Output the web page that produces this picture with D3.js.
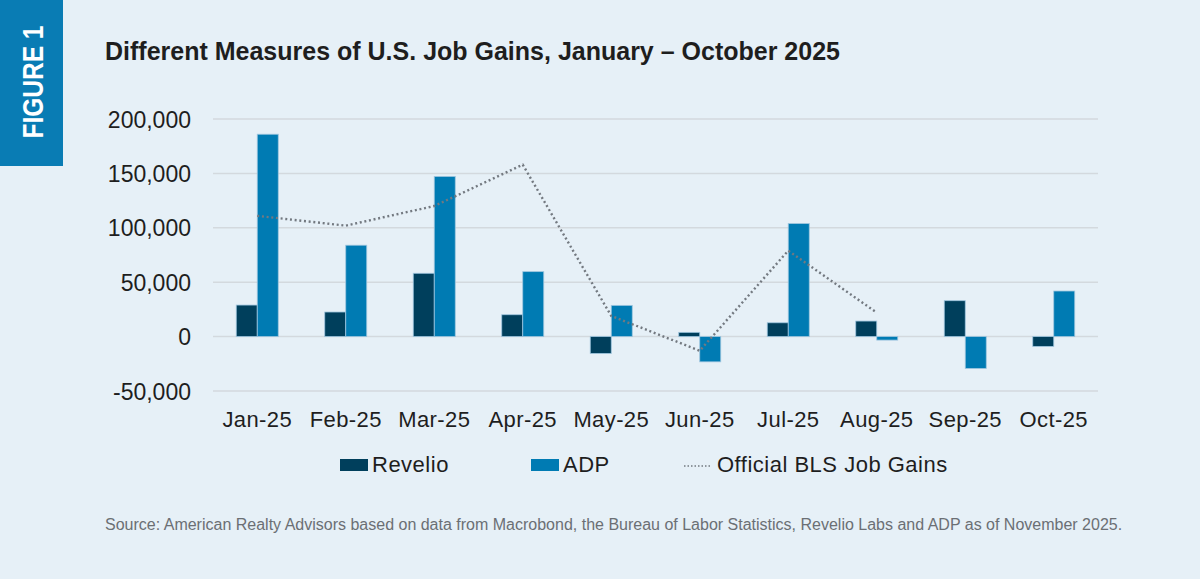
<!DOCTYPE html>
<html>
<head>
<meta charset="utf-8">
<script src="https://cdn.jsdelivr.net/npm/d3@7"></script>
<style>
  html, body { margin: 0; padding: 0; background: #e6f0f7; }
  svg { display: block; }
</style>
</head>
<body>
<svg id="chart" width="1200" height="579"></svg>
<script>
const months = ["Jan-25","Feb-25","Mar-25","Apr-25","May-25","Jun-25","Jul-25","Aug-25","Sep-25","Oct-25"];
const revelio = [29000, 22600, 58200, 20100, -15500, 3900, 12700, 14300, 33000, -9000];
const adp = [186000, 84000, 147200, 59700, 28700, -23200, 103900, -3200, -29300, 41900];
const blsMonths = ["Jan-25","Feb-25","Mar-25","Apr-25","May-25","Jun-25","Jul-25","Aug-25"];
const bls = [111000, 102000, 120000, 158000, 19000, -13000, 79000, 22000];
const yTicks = [-50000, 0, 50000, 100000, 150000, 200000];
const seriesNames = ["Revelio", "ADP"];
const seriesColors = ["#003f5c", "#007bb3"];
const titleText = "Different Measures of U.S. Job Gains, January \u2013 October 2025";
const sourceText = "Source: American Realty Advisors based on data from Macrobond, the Bureau of Labor Statistics, Revelio Labs and ADP as of November 2025.";

const svg = d3.select("#chart");
const font = "'Liberation Sans', Arial, sans-serif";

svg.append("rect").attr("width", 1200).attr("height", 579).attr("fill", "#e6f0f7");

// Figure tab
svg.append("rect").attr("x", 0).attr("y", 0).attr("width", 63).attr("height", 166).attr("fill", "#097cb4");
svg.append("text")
  .attr("transform", "translate(42.5,82) rotate(-90)")
  .attr("text-anchor", "middle")
  .attr("font-family", font).attr("font-weight", "bold").attr("font-size", 30)
  .attr("fill", "#ffffff")
  .attr("textLength", 113).attr("lengthAdjust", "spacingAndGlyphs")
  .text("FIGURE 1");

// Title
svg.append("text")
  .attr("x", 105).attr("y", 60)
  .attr("font-family", font).attr("font-weight", "bold").attr("font-size", 25)
  .attr("fill", "#1e1e1e").attr("letter-spacing", 0)
  .text(titleText);

const y = d3.scaleLinear().domain([-50000, 200000]).range([391, 119]);
const x0 = d3.scaleBand().domain(months).range([213, 1098]).padding(0);
const x1 = d3.scaleBand().domain(seriesNames).range([0, x0.bandwidth()]).paddingInner(0).paddingOuter(1.107);
const color = d3.scaleOrdinal().domain(seriesNames).range(seriesColors);

// gridlines
svg.append("g").selectAll("line").data(yTicks).join("line")
  .attr("x1", 213).attr("x2", 1098)
  .attr("y1", d => y(d)).attr("y2", d => y(d))
  .attr("stroke", "#d3d9de").attr("stroke-width", 1.5);

// y labels (hyphen-minus as in the reference)
const fmt = d3.formatLocale({ decimal: ".", thousands: ",", grouping: [3], currency: ["$", ""], minus: "-" }).format(",");
const yAxis = d3.axisLeft(y).tickValues(yTicks).tickFormat(fmt).tickSize(0).tickPadding(0);
const gy = svg.append("g").attr("transform", "translate(191,0)").call(yAxis);
gy.select(".domain").remove();
gy.selectAll("text").attr("font-family", font).attr("font-size", 23).attr("fill", "#1e1e1e").attr("dy", "0.35em");

// bars
const rows = months.map((m, i) => ({ m, vals: [ {k: "Revelio", v: revelio[i]}, {k: "ADP", v: adp[i]} ] }));
svg.append("g").selectAll("g").data(rows).join("g")
  .attr("transform", d => `translate(${x0(d.m)},0)`)
  .selectAll("rect").data(d => d.vals).join("rect")
  .attr("x", d => x1(d.k))
  .attr("width", x1.bandwidth())
  .attr("y", d => y(Math.max(0, d.v)))
  .attr("height", d => Math.abs(y(d.v) - y(0)))
  .attr("fill", d => color(d.k))
  .attr("stroke", "#9fc6df").attr("stroke-width", 0.8);

// BLS dotted line
const line = d3.line().x((d, i) => x0(blsMonths[i]) + x0.bandwidth() / 2).y(d => y(d));
svg.append("path").datum(bls)
  .attr("d", line)
  .attr("fill", "none").attr("stroke", "#737980").attr("stroke-width", 2.4)
  .attr("stroke-dasharray", "2,2.7");

// x labels
const xAxis = d3.axisBottom(x0).tickSize(0).tickPadding(0);
const gx = svg.append("g").attr("transform", "translate(0,427)").call(xAxis);
gx.select(".domain").remove();
gx.selectAll("text").attr("font-family", font).attr("font-size", 22).attr("fill", "#1e1e1e").attr("dy", 0).attr("letter-spacing", 0.4);

// legend
const leg = svg.append("g");
const legendItems = [
  { name: "Revelio", type: "rect", x: 340, color: seriesColors[0] },
  { name: "ADP", type: "rect", x: 531, color: seriesColors[1] },
  { name: "Official BLS Job Gains", type: "line", x: 684, color: "#737980" }
];
legendItems.forEach(it => {
  if (it.type === "rect") {
    leg.append("rect").attr("x", it.x).attr("y", 459).attr("width", 28).attr("height", 12).attr("fill", it.color);
    leg.append("text").attr("x", it.x + 32).attr("y", 472).attr("font-family", font).attr("font-size", 22).attr("letter-spacing", 0.5).attr("fill", "#1e1e1e").text(it.name);
  } else {
    leg.append("line").attr("x1", it.x).attr("x2", it.x + 27).attr("y1", 466).attr("y2", 466)
      .attr("stroke", it.color).attr("stroke-width", 1.5).attr("stroke-dasharray", "1.5,2");
    leg.append("text").attr("x", it.x + 33).attr("y", 472).attr("font-family", font).attr("font-size", 22).attr("letter-spacing", 0.5).attr("fill", "#1e1e1e").text(it.name);
  }
});

// source
svg.append("text").attr("x", 105).attr("y", 530)
  .attr("font-family", font).attr("font-size", 16).attr("fill", "#6b6f74")
  .text(sourceText);
</script>
</body>
</html>
